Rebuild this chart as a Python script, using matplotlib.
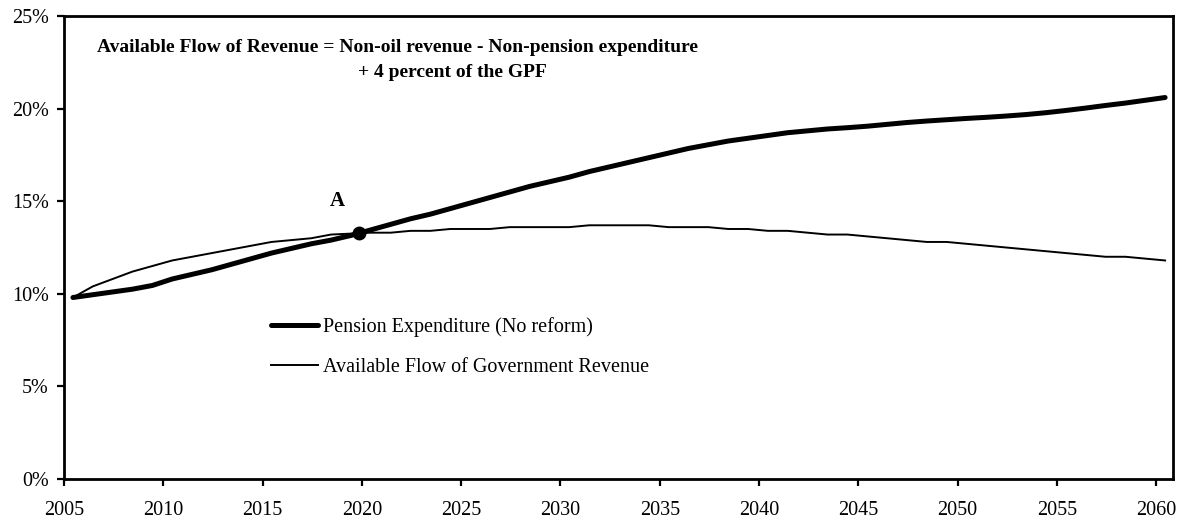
import numpy as np
import matplotlib
matplotlib.use("Agg")
import matplotlib.pyplot as plt
from matplotlib.ticker import FuncFormatter

years = np.arange(2005, 2061)

# percent of GDP
pension = [9.8, 9.95, 10.1, 10.25, 10.45, 10.8, 11.05, 11.3, 11.6, 11.9,
           12.2, 12.45, 12.7, 12.9, 13.15, 13.45, 13.75, 14.05, 14.3, 14.6,
           14.9, 15.2, 15.5, 15.8, 16.05, 16.3, 16.6, 16.85, 17.1, 17.35,
           17.6, 17.85, 18.05, 18.25, 18.4, 18.55, 18.7, 18.8, 18.9, 18.97,
           19.05, 19.15, 19.25, 19.33, 19.4, 19.47, 19.53, 19.6, 19.68, 19.78,
           19.9, 20.03, 20.17, 20.3, 20.45, 20.6]
revenue = [9.8, 10.4, 10.8, 11.2, 11.5, 11.8, 12.0, 12.2, 12.4, 12.6,
           12.8, 12.9, 13.0, 13.2, 13.25, 13.3, 13.3, 13.4, 13.4, 13.5,
           13.5, 13.5, 13.6, 13.6, 13.6, 13.6, 13.7, 13.7, 13.7, 13.7,
           13.6, 13.6, 13.6, 13.5, 13.5, 13.4, 13.4, 13.3, 13.2, 13.2,
           13.1, 13.0, 12.9, 12.8, 12.8, 12.7, 12.6, 12.5, 12.4, 12.3,
           12.2, 12.1, 12.0, 12.0, 11.9, 11.8]

labels = ["Pension Expenditure (No reform)", "Available Flow of Government Revenue"]
note_line1 = "Available Flow of Revenue = Non-oil revenue - Non-pension expenditure"
note_line2 = "+ 4 percent of the GPF"
point_label = "A"

plt.rcParams['font.family'] = ['Liberation Serif', 'DejaVu Serif']

# categories sit a little right of their tick, like an Excel line chart
x = years + 0.45

fig = plt.figure(figsize=(11.96, 5.22), dpi=100)
ax = fig.add_axes([0.0535, 0.0824, 0.9273, 0.8869])

ax.plot(x, pension, color='black', lw=3.6, solid_capstyle='round', label=labels[0])
ax.plot(x, revenue, color='black', lw=1.4, label=labels[1])

# crossing point A
p = np.array(pension)
r = np.array(revenue)
d = p - r
i = np.where((d[:-1] < 0) & (d[1:] >= 0))[0][0]
t = -d[i] / (d[i + 1] - d[i])
xa = x[i] + t * (x[i + 1] - x[i])
ya = p[i] + t * (p[i + 1] - p[i])
ax.plot([xa], [ya], 'o', color='black', ms=9)
ax.annotate(point_label, (xa, ya), xytext=(-22, 32), textcoords='offset pixels',
            ha='center', va='center', fontsize=15, fontweight='bold')

ax.set_xlim(2005, 2060.85)
ax.set_ylim(0, 25)
ax.set_xticks(np.arange(2005, 2061, 5))
ax.set_yticks(np.arange(0, 26, 5))
ax.yaxis.set_major_formatter(FuncFormatter(lambda v, pos: f"{v:.0f}%"))
ax.tick_params(direction='out', length=5, width=1.6, labelsize=14.5)
ax.tick_params(axis='x', pad=11)
ax.tick_params(axis='y', pad=6)
for s in ax.spines.values():
    s.set_linewidth(2)

ax.text(0.0298, 0.933, note_line1, transform=ax.transAxes, ha='left', va='center',
        fontsize=14, fontweight='bold')
ax.text(0.265, 0.879, note_line2, transform=ax.transAxes, ha='left', va='center',
        fontsize=14, fontweight='bold')

ax.legend(loc='center left', bbox_to_anchor=(0.187, 0.285), frameon=False,
          fontsize=14.5, handlelength=2.3, handletextpad=0.25, labelspacing=1.0,
          borderpad=0, borderaxespad=0)

fig.savefig("out.png", dpi=100)
